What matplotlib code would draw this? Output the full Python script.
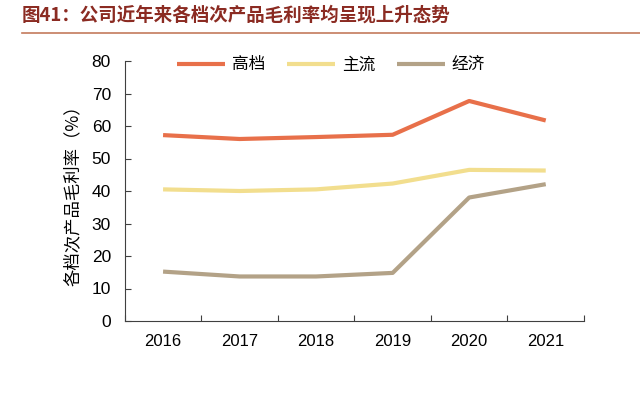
import matplotlib.pyplot as plt
import numpy as np

plt.rcParams['font.family'] = ['Liberation Sans', 'Noto Sans CJK SC', 'DejaVu Sans']

years = ['2016', '2017', '2018', '2019', '2020', '2021']
high = [57.2, 56.0, 56.6, 57.3, 67.7, 61.7]
main = [40.5, 40.0, 40.5, 42.3, 46.5, 46.3]
econ = [15.2, 13.7, 13.7, 14.8, 38.0, 42.1]
names = ['高档', '主流', '经济']
colors = ['#E8704A', '#F2DE8E', '#B3A287']

fig = plt.figure(figsize=(6.4, 4), dpi=100)
ax = fig.add_axes([0.195, 0.1975, 0.7175, 0.65])

x = np.arange(len(years))
for vals, name, c in zip([high, main, econ], names, colors):
    ax.plot(x, vals, color=c, lw=3, label=name, solid_capstyle='butt')

ax.set_xlim(-0.5, len(years) - 0.5)
ax.set_ylim(0, 80)
ax.set_yticks(range(0, 81, 10))
ax.set_xticks(np.arange(len(years) + 1) - 0.5)
ax.set_xticklabels([])
ax.set_xticks(x, minor=True)
ax.set_xticklabels(years, minor=True)
ax.tick_params(axis='x', which='minor', length=0, pad=9, labelsize=12)
ax.tick_params(axis='x', which='major', direction='in', length=4, color='#404040')
ax.tick_params(axis='y', direction='in', length=4, labelsize=12.5, pad=10, color='#404040')
for s in ['top', 'right']:
    ax.spines[s].set_visible(False)
for s in ['left', 'bottom']:
    ax.spines[s].set_color('#404040')

# 세로 라벨
ax.set_ylabel('各档次产品毛利率（%）', fontsize=12.5, family=['Noto Sans CJK SC', 'DejaVu Sans'])
ax.yaxis.set_label_coords(-0.094, 0.5)

ax.legend(loc='center left', bbox_to_anchor=(177 / 640, 1 - 65 / 400), bbox_transform=fig.transFigure,
          ncol=3, frameon=False, handlelength=2.9, columnspacing=1.3, handletextpad=0.4,
          borderpad=0, borderaxespad=0,
          prop={'family': ['Noto Sans CJK SC'], 'size': 12})

fig.text(0.034, 0.962, '图41：公司近年来各档次产品毛利率均呈现上升态势', fontsize=13.3,
         fontweight='bold', color='#8B2B22', family=['Noto Sans CJK SC', 'DejaVu Sans'],
         va='center')
fig.add_artist(plt.Line2D([0.034, 1.0], [0.917, 0.917], color='#C47A5C', lw=1.2))

fig.savefig('out.png', dpi=100)
